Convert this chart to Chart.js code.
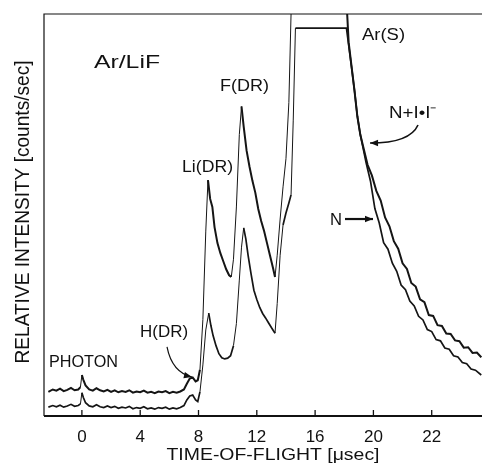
<!DOCTYPE html>
<html>
<head>
<meta charset="utf-8">
<script src="https://cdn.jsdelivr.net/npm/chart.js@4.4.1/dist/chart.umd.min.js"></script>
<style>
  body { margin: 0; background: #fff; }
</style>
</head>
<body>
<canvas id="tofChart" width="482" height="467"></canvas>
<script>
// time-of-flight axis (usec) and tick labels as printed
const tickVals = [0, 4, 8, 12, 16, 20, 24];
const tickLabels = ['0', '4', '8', '12', '16', '20', '22'];

// upper trace: N + I·I⁻
const upperTime = [-2.3, -2.0, -1.75, -1.5, -1.25, -1.0, -0.75, -0.5, -0.25, -0.1, 0, 0.1, 0.25, 0.5, 0.75, 1.0, 1.25, 1.5, 1.75, 2.0,
  2.25, 2.5, 2.75, 3.0, 3.25, 3.5, 3.75, 4.0, 4.25, 4.5, 4.75, 5.0, 5.25, 5.5, 5.75, 6.0, 6.25, 6.5, 6.75, 7.0,
  7.2, 7.4, 7.6, 7.8, 7.95, 8.1, 8.3, 8.5, 8.65, 8.8, 8.95, 9.1, 9.3, 9.5, 9.7, 9.9, 10.1, 10.25, 10.4, 10.6,
  10.8, 10.95, 11.1, 11.3, 11.5, 11.7, 11.9, 12.1, 12.3, 12.5, 12.7, 12.9, 13.1, 13.25, 13.4, 13.6, 13.8, 14.0, 14.2, 14.35,
  14.45, 16, 18.1, 18.2, 18.3, 18.5, 18.7, 18.9, 19.1, 19.3, 19.6, 19.9, 20.2, 20.5, 20.8, 21.1, 21.4, 21.7, 22.0, 22.3,
  22.6, 22.9, 23.2, 23.5, 23.8, 24.1, 24.4, 24.7, 25.0, 25.3, 25.6, 25.9, 26.2, 26.5, 26.8, 27.1, 27.4];
const upperCounts = [6.0, 6.6, 6.3, 6.8, 6.2, 6.5, 7.0, 6.4, 6.6, 7.2, 10.2, 9.0, 7.6, 6.6, 6.3, 6.9, 6.4, 6.1, 6.5, 6.0,
  6.4, 5.9, 6.2, 6.0, 6.4, 5.8, 6.1, 5.9, 6.3, 5.8, 6.0, 5.7, 6.1, 5.9, 6.2, 5.7, 6.0, 5.8, 6.1, 6.6,
  8.0, 9.3, 9.6, 8.6, 8.9, 11.5, 24, 46, 58.7, 54, 52, 47, 43, 40.5, 38.5, 36.5, 35, 34.6, 39, 52,
  70, 77, 72, 66, 62, 58.5, 55.5, 51.5, 48.5, 46, 43, 40, 37, 34.6, 40, 49, 57, 64, 78, 100,
  112, 115, 115, 100, 93, 87, 81, 74.5, 70, 67, 62.5, 59.8, 56.0, 53.6, 49.4, 47.2, 43.5, 41.6, 38.0, 36.6,
  33.1, 32.2, 29.0, 28.3, 25.1, 24.9, 22.6, 22.4, 20.5, 20.4, 18.8, 18.6, 17.0, 17.1, 15.7, 15.8, 14.6];

// lower trace: N
const lowerTime = [-2.3, -2.0, -1.75, -1.5, -1.25, -1.0, -0.75, -0.5, -0.25, -0.1, 0, 0.1, 0.25, 0.5, 0.75, 1.0, 1.25, 1.5, 1.75, 2.0,
  2.25, 2.5, 2.75, 3.0, 3.25, 3.5, 3.75, 4.0, 4.25, 4.5, 4.75, 5.0, 5.25, 5.5, 5.75, 6.0, 6.25, 6.5, 6.75, 7.0,
  7.2, 7.4, 7.6, 7.8, 7.95, 8.1, 8.3, 8.5, 8.7, 8.85, 9.0, 9.2, 9.4, 9.6, 9.8, 10.0, 10.2, 10.4, 10.6, 10.8,
  10.95, 11.1, 11.25, 11.4, 11.6, 11.8, 12.0, 12.2, 12.4, 12.6, 12.8, 13.0, 13.25, 13.4, 13.6, 13.8, 14.0, 14.2, 14.35, 14.5,
  14.65, 16, 18.15, 18.3, 18.5, 18.7, 18.9, 19.1, 19.3, 19.5, 19.8, 20.1, 20.4, 20.7, 21.0, 21.3, 21.6, 21.9, 22.2, 22.5,
  22.8, 23.1, 23.4, 23.7, 24.0, 24.3, 24.6, 24.9, 25.2, 25.5, 25.8, 26.1, 26.4, 26.7, 27.0, 27.4];
const lowerCounts = [2.2, 2.6, 2.3, 2.7, 2.2, 2.5, 2.9, 2.4, 2.6, 3.0, 5.8, 4.6, 3.3, 2.5, 2.3, 2.8, 2.3, 2.1, 2.5, 2.1,
  2.4, 1.9, 2.2, 2.0, 2.4, 1.8, 2.1, 1.9, 2.3, 1.8, 2.0, 1.7, 2.1, 1.9, 2.2, 1.7, 2.0, 1.8, 2.1, 2.6,
  4.0, 5.0, 5.2, 4.0, 3.6, 6.0, 12.7, 21.4, 25.6, 22.5, 20, 17.5, 15.5, 14.5, 14.2, 14.4, 15.0, 17.5, 23, 33.8,
  42, 46.8, 44, 40, 35.5, 31.3, 29, 27, 25.5, 24.4, 23.2, 22, 20.6, 28, 40, 47.5, 50.5, 53, 55, 73.6,
  96.5, 96.5, 96.5, 92.3, 86.8, 81, 74.5, 70, 66.5, 63, 58.4, 51.6, 48.0, 43.1, 41.5, 38.0, 36.0, 32.6, 31.4, 28.6,
  27.4, 24.8, 23.9, 21.5, 21.0, 19.0, 18.7, 16.9, 16.6, 15.0, 14.7, 13.3, 13.0, 11.7, 11.4, 10.2];

// text and arrows, placed in data units
const notes = [
  { text: 'Ar/LiF', x: 0.83, y: 87.8, size: 18, w: 66 },
  { text: 'F(DR)', x: 9.47, y: 82.1, size: 17, w: 49 },
  { text: 'Li(DR)', x: 6.87, y: 61.9, size: 17, w: 51 },
  { text: 'H(DR)', x: 3.99, y: 20.9, size: 17, w: 48 },
  { text: 'PHOTON', x: -2.26, y: 13.4, size: 16, w: 69 },
  { text: 'Ar(S)', x: 19.22, y: 94.8, size: 17, w: 43 },
  { text: 'N+I•I⁻', x: 21.07, y: 75.4, size: 17, w: 48 },
  { text: 'N', x: 17.02, y: 48.8, size: 17, w: 12 }
];
const arrows = [
  { from: [5.84, 17.2], ctrl: [6.18, 10.9], to: [7.55, 9.7], lw: 1.2 },
  { from: [23.06, 72.4], ctrl: [22.51, 67.9], to: [19.77, 67.9], lw: 1.6 },
  { from: [18.05, 49.0], ctrl: null, to: [19.97, 49.0], lw: 2.2 }
];

function toPoints(xs, ys) {
  return xs.map((t, i) => ({ x: t, y: ys[i] }));
}

// steep rising segments were drawn thin on the original plotter
function segWidth(base) {
  return c => {
    const dx = c.p1.x - c.p0.x;
    const dy = c.p0.y - c.p1.y;
    return dy > 0 && dy > 5 * dx ? 1 : base;
  };
}

function fitText(ctx, str, x, y, size, width, rot) {
  ctx.save();
  ctx.font = size + 'px "Liberation Sans"';
  const w = ctx.measureText(str).width;
  ctx.translate(x, y);
  if (rot) ctx.rotate(rot);
  ctx.scale(width / w, 1);
  ctx.fillText(str, 0, 0);
  ctx.restore();
}

const decorPlugin = {
  id: 'decor',
  afterDraw(chart) {
    const { ctx, chartArea: a, scales: { x, y } } = chart;
    ctx.save();
    ctx.strokeStyle = '#111';
    ctx.fillStyle = '#111';

    // frame: top, left, bottom
    ctx.lineWidth = 1.2;
    ctx.beginPath();
    ctx.moveTo(a.right, a.top);
    ctx.lineTo(a.left, a.top);
    ctx.lineTo(a.left, a.bottom);
    ctx.stroke();
    ctx.lineWidth = 1.8;
    ctx.beginPath();
    ctx.moveTo(a.left, a.bottom);
    ctx.lineTo(a.right, a.bottom);
    ctx.stroke();

    // inward ticks
    ctx.lineWidth = 1.3;
    ctx.beginPath();
    tickVals.forEach(v => {
      const px = x.getPixelForValue(v);
      ctx.moveTo(px, a.bottom);
      ctx.lineTo(px, a.bottom - 6);
    });
    ctx.stroke();

    // labels
    ctx.textBaseline = 'middle';
    ctx.textAlign = 'left';
    notes.forEach(n => {
      fitText(ctx, n.text, x.getPixelForValue(n.x), y.getPixelForValue(n.y), n.size, n.w);
    });

    // axis titles
    ctx.textAlign = 'center';
    fitText(ctx, 'TIME-OF-FLIGHT [μsec]', 273, 455, 17, 213);
    fitText(ctx, 'RELATIVE INTENSITY [counts/sec]', 23, 212, 21, 303, -Math.PI / 2);

    // arrows
    arrows.forEach(ar => {
      const p0 = [x.getPixelForValue(ar.from[0]), y.getPixelForValue(ar.from[1])];
      const p2 = [x.getPixelForValue(ar.to[0]), y.getPixelForValue(ar.to[1])];
      let dirFrom = p0;
      ctx.lineWidth = ar.lw;
      ctx.beginPath();
      ctx.moveTo(p0[0], p0[1]);
      if (ar.ctrl) {
        const p1 = [x.getPixelForValue(ar.ctrl[0]), y.getPixelForValue(ar.ctrl[1])];
        ctx.quadraticCurveTo(p1[0], p1[1], p2[0], p2[1]);
        dirFrom = p1;
      } else {
        ctx.lineTo(p2[0], p2[1]);
      }
      ctx.stroke();
      const ang = Math.atan2(p2[1] - dirFrom[1], p2[0] - dirFrom[0]);
      const len = 8, half = 3.2;
      ctx.beginPath();
      ctx.moveTo(p2[0], p2[1]);
      ctx.lineTo(p2[0] - len * Math.cos(ang) + half * Math.sin(ang), p2[1] - len * Math.sin(ang) - half * Math.cos(ang));
      ctx.lineTo(p2[0] - len * Math.cos(ang) - half * Math.sin(ang), p2[1] - len * Math.sin(ang) + half * Math.cos(ang));
      ctx.closePath();
      ctx.fill();
    });
    ctx.restore();
  }
};

const ctx = document.getElementById('tofChart').getContext('2d');
const tofChart = new Chart(ctx, {
  type: 'line',
  data: {
    datasets: [
      {
        label: 'N+I•I⁻',
        data: toPoints(upperTime, upperCounts),
        borderColor: '#151515',
        borderWidth: 2,
        segment: { borderWidth: segWidth(2) },
        pointRadius: 0,
        tension: 0,
        fill: false
      },
      {
        label: 'N',
        data: toPoints(lowerTime, lowerCounts),
        borderColor: '#151515',
        borderWidth: 1.7,
        segment: { borderWidth: segWidth(1.7) },
        pointRadius: 0,
        tension: 0,
        fill: false
      }
    ]
  },
  options: {
    responsive: false,
    animation: false,
    layout: { padding: { top: 14, right: 0, left: 0, bottom: 0 } },
    plugins: {
      legend: { display: false },
      tooltip: { enabled: false }
    },
    scales: {
      x: {
        type: 'linear',
        min: -2.6,
        max: 27.45,
        afterBuildTicks: scale => { scale.ticks = tickVals.map(v => ({ value: v })); },
        afterFit: scale => { scale.height = 51; },
        ticks: {
          autoSkip: false,
          maxRotation: 0,
          padding: 11,
          color: '#111',
          font: { family: 'Liberation Sans', size: 17 },
          callback: value => tickLabels[tickVals.indexOf(value)]
        },
        grid: { display: false, drawTicks: false },
        border: { display: false }
      },
      y: {
        min: 0,
        max: 100,
        afterFit: scale => { scale.width = 44; },
        ticks: { display: false },
        grid: { display: false, drawTicks: false },
        border: { display: false }
      }
    }
  },
  plugins: [decorPlugin]
});
</script>
</body>
</html>
